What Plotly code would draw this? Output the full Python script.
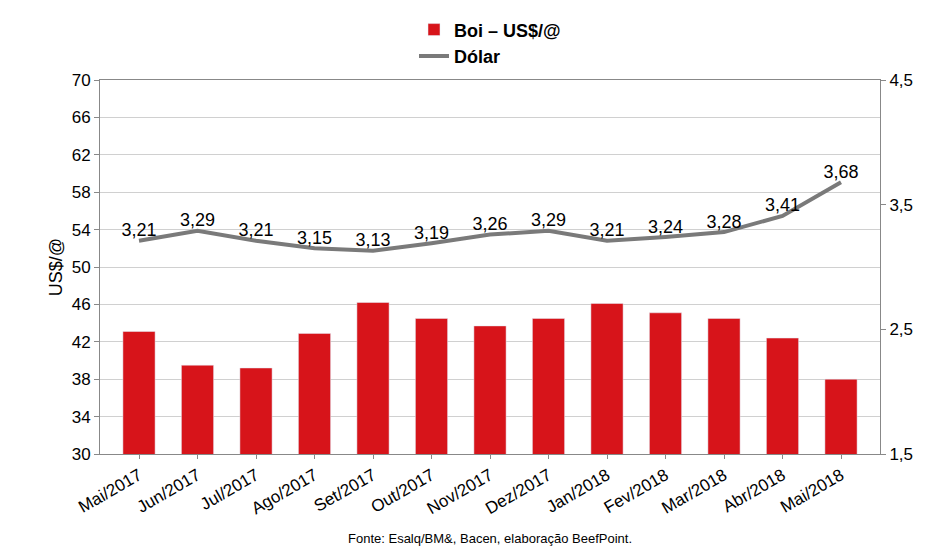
import plotly.graph_objects as go

months = ["Mai/2017", "Jun/2017", "Jul/2017", "Ago/2017", "Set/2017", "Out/2017", "Nov/2017",
          "Dez/2017", "Jan/2018", "Fev/2018", "Mar/2018", "Abr/2018", "Mai/2018"]
boi = [43.1, 39.5, 39.2, 42.9, 46.2, 44.5, 43.7, 44.5, 46.1, 45.1, 44.5, 42.4, 38.0]
dolar = [3.21, 3.29, 3.21, 3.15, 3.13, 3.19, 3.26, 3.29, 3.21, 3.24, 3.28, 3.41, 3.68]
left_ticks = list(range(30, 71, 4))

fig = go.Figure()
fig.add_trace(go.Bar(x=months, y=boi, name="<b>Boi – US$/@</b>", marker_color="#d7141a", width=0.55))
fig.add_trace(go.Scatter(
    x=months, y=dolar, name="<b>Dólar</b>", yaxis="y2", mode="lines+text",
    line=dict(color="#7a7a7a", width=4),
    text=[f"{v:.2f}".replace(".", ",") for v in dolar], textposition="top center",
    textfont=dict(size=18, color="black"),
))

fig.update_layout(
    width=932, height=547,
    font=dict(family="Liberation Sans, Arial", color="black"),
    plot_bgcolor="white", paper_bgcolor="white",
    margin=dict(l=92, r=60, t=72, b=101, autoexpand=False),
    showlegend=True,
    legend=dict(orientation="v", x=0.5, xanchor="center", y=1.015, yanchor="bottom",
                font=dict(size=18), traceorder="normal", tracegroupgap=0,
                bgcolor="rgba(0,0,0,0)"),
    xaxis=dict(tickangle=-30, tickfont=dict(size=17), showline=True, linecolor="#888",
               mirror=True, ticks="outside", ticklen=4, tickcolor="#888"),
    yaxis=dict(range=[30, 70], tickvals=left_ticks, tickfont=dict(size=17), gridcolor="#d0d0d0",
               showline=True, linecolor="#888", ticks="outside", tickcolor="#888",
               title=dict(text="US$/@", font=dict(size=18), standoff=4)),
    yaxis2=dict(range=[1.5, 4.5], tickvals=[1.5, 2.5, 3.5, 4.5], ticktext=["1,5", "2,5", "3,5", "4,5"],
                overlaying="y", side="right", showgrid=False, tickfont=dict(size=17),
                showline=True, linecolor="#888", ticks="outside", tickcolor="#888"),
    annotations=[dict(text="Fonte: Esalq/BM&, Bacen, elaboração BeefPoint.", x=0.5, y=-0.2,
                      xref="paper", yref="paper", showarrow=False, yanchor="top",
                      font=dict(size=13))],
)

fig.write_html("out.html")
